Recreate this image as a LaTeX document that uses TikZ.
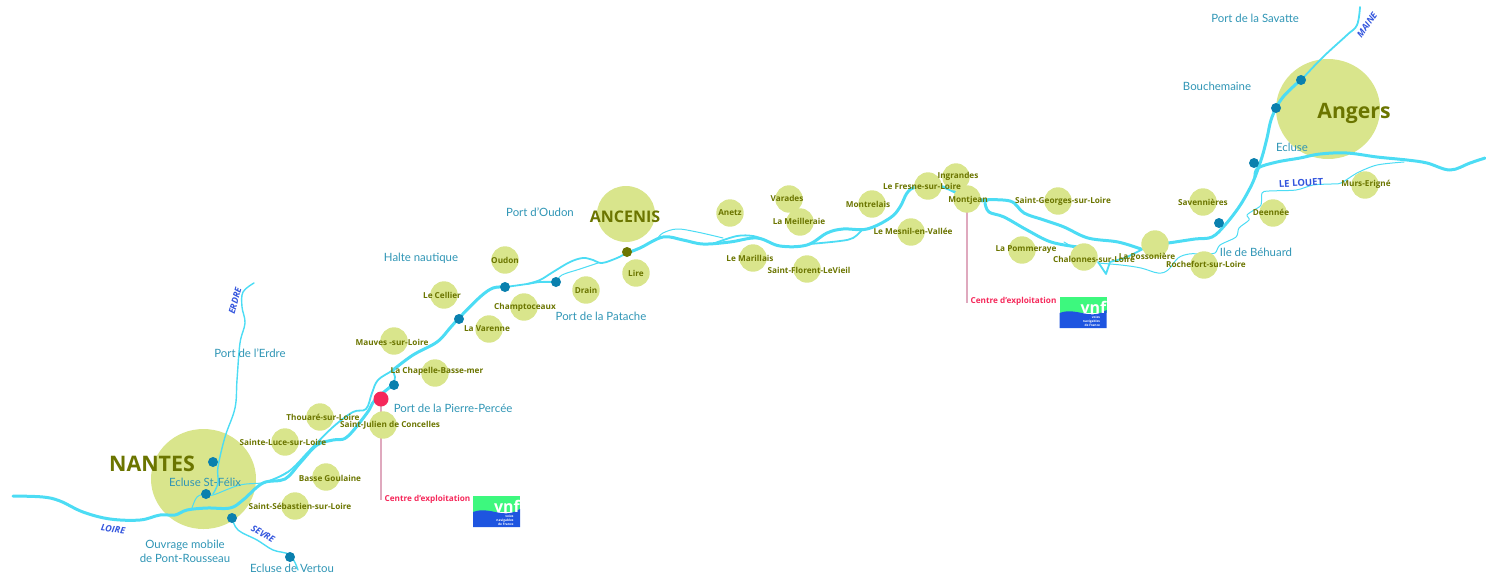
\documentclass[tikz,border=0pt]{standalone}
\usepackage{fontspec}
\usetikzlibrary{shapes.geometric}
\setmainfont{Lato}
\newfontfamily\heavy{Open Sans}
\definecolor{cityfill}{HTML}{D9E58C}
\definecolor{olive}{HTML}{6B7500}
\definecolor{river}{HTML}{4CDCF4}
\definecolor{teal}{HTML}{2F95B5}
\definecolor{dotblue}{HTML}{0A80AE}
\definecolor{hot}{HTML}{F5285A}
\definecolor{pinkline}{HTML}{DFA9BE}
\definecolor{rname}{HTML}{3355DD}
\definecolor{vnfgreen}{HTML}{3DF87E}
\definecolor{vnfblue}{HTML}{1E55E0}
\tikzset{
  cityspot/.style={circle,fill=cityfill,draw=none,inner sep=0pt,minimum size=13.7pt},
  bigspot/.style={ellipse,fill=cityfill,draw=none,inner sep=0pt},
  citytext/.style={text=olive,inner sep=0pt,font=\heavy\bfseries\fontsize{4.1}{5}\selectfont},
  bigtext/.style={text=olive,inner sep=0pt},
  porttext/.style={text=teal,inner sep=0pt,align=center,font=\fontsize{5.7}{7}\selectfont},
  rivertext/.style={text=rname,inner sep=0pt,font=\heavy\bfseries\itshape\fontsize{4.5}{5}\selectfont},
  hottext/.style={text=hot,inner sep=0pt,font=\heavy\bfseries\fontsize{4.1}{5}\selectfont},
  lockdot/.style={circle,fill=dotblue,draw=none,inner sep=0pt,minimum size=5pt},
  wide/.style={draw=river,line width=1.5pt,line cap=round,line join=round},
  mid/.style={draw=river,line width=0.9pt,line cap=round,line join=round},
  slim/.style={draw=river,line width=0.7pt,line cap=round,line join=round},
  fine/.style={draw=river,line width=0.5pt,line cap=round,line join=round},
  stem/.style={draw=pinkline,line width=0.7pt},
}
\newcommand{\spot}[4]{\node[cityspot] (#1) at (#2,#3) {};}
\newcommand{\logo}[3]{%
  \fill[vnfgreen] (#2,#3) rectangle ++(47,16);
  \fill[vnfblue] (#2,#3+31) -- ++(0,-15) .. controls (#2+10,#3+12) and (#2+20,#3+16) .. (#2+28,#3+17) .. controls (#2+35,#3+18) and (#2+41,#3+17) .. (#2+47,#3+13) -- (#2+47,#3+31) -- cycle;
  \node[inner sep=0pt,text=white,font=\heavy\bfseries\fontsize{8}{8}\selectfont] (#1v) at (#2+34,#3+10) {vnf};
  \node[inner sep=0pt,text=white,align=right,font=\heavy\bfseries\fontsize{1.6}{2.1}\selectfont] (#1t) at (#2+32,#3+24) {voies\\navigables\\de France};
}
\begin{document}
\begin{tikzpicture}[x=0.5pt,y=-0.5pt]
\useasboundingbox (0,0) rectangle (1486,574);
% big circles lie under the rivers
\node[bigspot,minimum width=52.5pt,minimum height=50pt] (nantes) at (203.5,479) {};
\node[bigspot,minimum width=52pt,minimum height=50pt] (angers) at (1328,109) {};
\node[bigspot,minimum width=29pt,minimum height=28pt] (ancenis) at (626,214) {};
% stems
\coordinate (stemA) at (381,500);
\coordinate (stemB) at (967,303);
\coordinate (stemAtop) at (381,400);
\coordinate (stemBtop) at (967,205);
\draw[stem] (stemAtop) -- (stemA);
\draw[stem] (stemBtop) -- (stemB);
% Loire, Nantes to Ancenis
\draw[wide] plot[smooth,tension=0.6] coordinates {(13,496)(43,497)(60,501)(83,512)(110,519)(140,520)(160,515)(175,515)(187,510)(207,508)(230,508)(243,500)(263,483)(285,479)(300,463)(317,445)(333,440)(347,437)(367,413)(375,400)(394,384)};
\draw[mid] plot[smooth,tension=0.6] coordinates {(263,483)(288,472)(310,450)(333,427)(353,412)(366,409)(372,393)(378,380)(393,370)(413,355)(437,342)(450,328)(459,318)(480,297)(493,288)(505,287)(527,284)(540,282)(556,282)};
\draw[mid] (394,384) -- (395,377) -- (393,370);
\draw[wide] plot[smooth,tension=0.6] coordinates {(393,370)(413,355)(437,342)(450,328)(459,318)(480,297)(493,288)(505,287)};
\draw[fine] plot[smooth,tension=0.6] coordinates {(192,508)(197,497)(206,494)(213,495)(240,485)(267,482)(287,472)};
\draw[mid] plot[smooth,tension=0.6] coordinates {(527,284)(540,280)(553,272)(570,262)(583,258)(593,260)(602,263)(617,258)(627,253)(640,248)};
\draw[fine] plot[smooth,tension=0.6] coordinates {(556,282)(562,275)(580,269)(598,263)};
% Loire, Ancenis to Montjean
\draw[wide] plot[smooth,tension=0.6] coordinates {(627,253)(640,248)(663,237)(683,240)(703,244)(730,242)(757,238)(780,246)(807,245)(827,233)(843,229)(867,229)(890,218)(900,207)(907,193)(915,187)(928,186)(943,187)(955,192)(967,199)(987,201)};
\draw[mid] plot[smooth,tension=0.6] coordinates {(715,243)(737,236)(753,236)(762,239)};
\draw[fine] plot[smooth,tension=0.6] coordinates {(658,238)(663,233)(677,229)(697,232)(723,238)};
\draw[mid] plot[smooth,tension=0.6] coordinates {(810,244)(840,241)(853,238)(862,230)};
% Loire, Montjean to Maine
\draw[wide] plot[smooth,tension=0.6] coordinates {(980,200)(1010,201)(1024,213)(1044,220)(1064,227)(1088,238)(1118,242)(1141,249)};
\draw[wide] plot[smooth,tension=0.6] coordinates {(985,203)(989,212)(1004,217)(1027,230)(1051,242)(1078,247)};
\draw[fine] (1064,242) -- (1076,249);
\draw[mid] (1098,262) -- (1106,274) -- (1110,262) -- (1125,258) -- (1143,249);
\draw[fine] plot[smooth,tension=0.6] coordinates {(1098,263)(1121,265)(1141,268)(1158,273)(1168,270)(1178,258)(1189,254)(1199,254)};
\draw[wide] plot[smooth,tension=0.6] coordinates {(1155,244)(1168,243)(1195,239)(1212,237)(1225,225)(1239,207)(1249,190)(1255,177)(1262,157)(1267,138)(1272,117)(1283,97)(1303,78)};
\draw[mid] plot[smooth,tension=0.6] coordinates {(1303,78)(1323,57)(1347,35)(1357,25)(1360,7)};
\draw[wide] plot[smooth,tension=0.6] coordinates {(1255,177)(1258,168)(1277,162)(1300,158)(1320,154)(1347,153)(1377,157)(1407,160)(1427,163)(1450,170)(1470,163)(1485,158)};
% Louet
\draw[fine] plot[smooth,tension=0.5] coordinates {(1204,254)(1215,253)(1220,245)(1236,237)(1239,228)(1249,220)(1247,215)(1254,210)(1261,205)(1262,193)(1269,191)(1296,190)(1313,185)(1330,184)(1341,183)(1357,173)(1377,165)(1404,162)};
% Erdre, Sevre
\draw[slim] plot[smooth,tension=0.6] coordinates {(254,283)(243,292)(242,307)(245,323)(240,343)(237,380)(235,408)(225,437)(218,467)(218,483)(213,494)};
\draw[slim] plot[smooth,tension=0.6] coordinates {(232,518)(238,530)(257,540)(273,550)(290,555)(298,570)};
% small circles lie over the rivers
\spot{thouare}{320}{417}{}
\spot{luce}{285}{442}{}
\spot{basse}{326}{477}{}
\spot{sebastien}{295}{506}{}
\spot{julien}{383}{425}{}
\spot{mauves}{394}{341}{}
\spot{chapelle}{435}{373}{}
\spot{cellier}{444}{295}{}
\spot{varenne}{489}{329}{}
\spot{champto}{524}{307}{}
\spot{oudon}{505}{260}{}
\spot{drain}{586}{290}{}
\spot{lire}{636}{273}{}
\spot{anetz}{730}{213}{}
\spot{varades}{789}{199}{}
\spot{meilleraie}{800}{222}{}
\spot{marillais}{753}{258}{}
\spot{florent}{807}{269}{}
\spot{montrelais}{872}{204}{}
\spot{mesnil}{911}{232}{}
\spot{fresne}{928}{186}{}
\spot{ingrandes}{956}{177}{}
\spot{montjean}{967}{199}{}
\spot{pommeraye}{1022}{250}{}
\spot{georges}{1058}{201}{}
\spot{chalonnes}{1084}{257}{}
\spot{possoniere}{1155}{244}{}
\spot{rochefort}{1204}{265}{}
\spot{savennieres}{1203}{202}{}
\spot{deennee}{1273}{213}{}
\spot{murs}{1365}{185}{}
% locks
\node[lockdot] (d1) at (213,462) {};
\node[lockdot] (d2) at (206,494) {};
\node[lockdot] (d3) at (232,518) {};
\node[lockdot] (d4) at (290,557) {};
\node[lockdot] (d5) at (394,385) {};
\node[lockdot] (d6) at (459,319) {};
\node[lockdot] (d7) at (505,287) {};
\node[lockdot] (d8) at (556,282) {};
\node[lockdot,fill=olive] (d9) at (627,252) {};
\node[lockdot] (d10) at (1219,223) {};
\node[lockdot] (d11) at (1254,163) {};
\node[lockdot] (d12) at (1276,108) {};
\node[lockdot] (d13) at (1301,80) {};
\node[circle,fill=hot,draw=none,inner sep=0pt,minimum size=7.5pt] (pierre) at (381,399) {};
% big names
\node[bigtext,font=\heavy\bfseries\fontsize{10.7}{12}\selectfont] (tnantes) at (152,464) {NANTES};
\node[bigtext,font=\heavy\bfseries\fontsize{8}{9}\selectfont] (tancenis) at (625,217) {ANCENIS};
\node[bigtext,font=\heavy\bfseries\fontsize{10.6}{12}\selectfont] (tangers) at (1354,113) {Angers};
% city labels
\node[citytext] (l1) at (323,417) {Thouaré-sur-Loire};
\node[citytext] (l2) at (283,442) {Sainte-Luce-sur-Loire};
\node[citytext] (l3) at (330,478) {Basse Goulaine};
\node[citytext] (l4) at (300,506) {Saint-Sébastien-sur-Loire};
\node[citytext] (l5) at (390,425) {Saint-Julien de Concelles};
\node[citytext] (l6) at (392,342) {Mauves -sur-Loire};
\node[citytext] (l7) at (437,371) {La Chapelle-Basse-mer};
\node[citytext] (l8) at (442,295) {Le Cellier};
\node[citytext] (l9) at (487,329) {La Varenne};
\node[citytext] (l10) at (525,307) {Champtoceaux};
\node[citytext] (l11) at (505,260) {Oudon};
\node[citytext] (l12) at (586,290) {Drain};
\node[citytext] (l13) at (636,273) {Lire};
\node[citytext] (l14) at (730,213) {Anetz};
\node[citytext] (l15) at (787,198) {Varades};
\node[citytext] (l16) at (799,221) {La Meilleraie};
\node[citytext] (l17) at (750,258) {Le Marillais};
\node[citytext] (l18) at (809,270) {Saint-Florent-LeVieil};
\node[citytext] (l19) at (868,204) {Montrelais};
\node[citytext] (l20) at (913,231) {Le Mesnil-en-Vallée};
\node[citytext] (l21) at (922,186) {Le Fresne-sur-Loire};
\node[citytext] (l22) at (958,176) {Ingrandes};
\node[citytext] (l23) at (968,200) {Montjean};
\node[citytext] (l24) at (1026,250) {La Pommeraye};
\node[citytext] (l25) at (1063,201) {Saint-Georges-sur-Loire};
\node[citytext] (l26) at (1094,259) {Chalonnes-sur-Loire};
\node[citytext] (l27) at (1147,256) {La Possonière};
\node[citytext] (l28) at (1206,264) {Rochefort-sur-Loire};
\node[citytext] (l29) at (1203,202) {Savennières};
\node[citytext] (l30) at (1271,212) {Deennée};
\node[citytext] (l31) at (1366,184) {Murs-Erigné};
% port labels
\node[porttext] (p1) at (1255,18) {Port de la Savatte};
\node[porttext] (p2) at (1217,86) {Bouchemaine};
\node[porttext] (p3) at (1292,147) {Ecluse};
\node[porttext] (p4) at (1256,252) {Ile de Béhuard};
\node[porttext] (p5) at (540,212) {Port d’Oudon};
\node[porttext] (p6) at (421,258) {Halte nautique};
\node[porttext] (p7) at (601,316) {Port de la Patache};
\node[porttext] (p8) at (453,408) {Port de la Pierre-Percée};
\node[porttext] (p9) at (250,353) {Port de l’Erdre};
\node[porttext] (p10) at (205,482) {Ecluse St-Félix};
\node[porttext] (p11) at (185,551) {Ouvrage mobile\\de Pont-Rousseau};
\node[porttext] (p12) at (292,568) {Ecluse de Vertou};
% river names
\node[rivertext,rotate=75] (r1) at (235,301) {ERDRE};
\node[rivertext,rotate=-8] (r2) at (113,529) {LOIRE};
\node[rivertext,rotate=-30] (r3) at (263,534) {SEVRE};
\node[rivertext,rotate=55] (r4) at (1367,25) {MAINE};
\node[rivertext,rotate=3,font=\heavy\bfseries\fontsize{4.8}{5}\selectfont] (r5) at (1301,183) {LE LOUET};
% centres
\node[hottext] (c1) at (427.5,499) {Centre d’exploitation};
\node[hottext] (c2) at (1013.5,301) {Centre d’exploitation};
\logo{la}{473}{496}
\logo{lb}{1059.5}{297}
\end{tikzpicture}
\end{document}
